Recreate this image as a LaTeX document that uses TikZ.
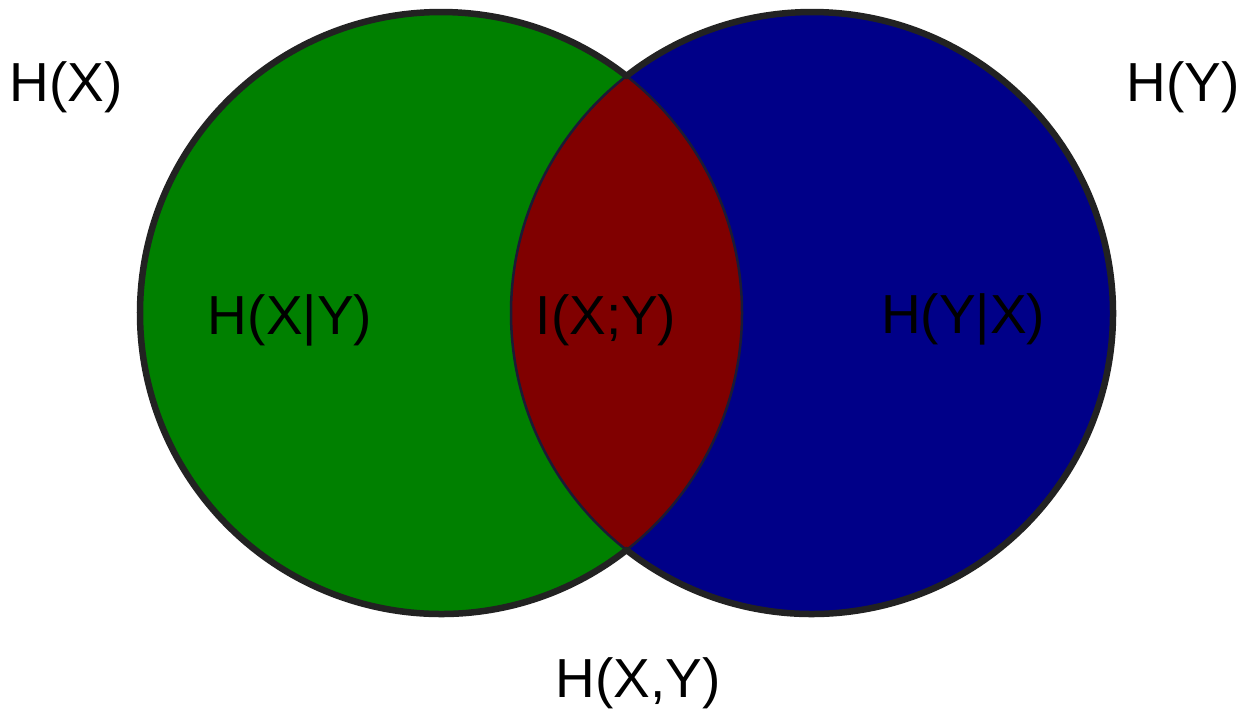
\documentclass[tikz,border=0pt]{standalone}
\usepackage{fontspec}
\setmainfont{Liberation Sans}
\definecolor{cgreen}{RGB}{0,128,0}
\definecolor{cblue}{RGB}{0,0,136}
\definecolor{cred}{RGB}{128,0,0}
\definecolor{cline}{RGB}{34,34,34}
\begin{document}
\begin{tikzpicture}[x=1pt,y=-1pt,
  lbl/.style={font=\fontsize{55}{60}\selectfont, text=black, inner sep=0pt, anchor=base},
  outer/.style={line width=6.5pt, draw=cline, line cap=round},
  inner/.style={line width=2.5pt, draw=cline!80!cblue}]
\useasboundingbox (0,0) rectangle (1244,710);
\coordinate (cl) at (441,313);
\coordinate (cr) at (812,313);
\fill[cgreen] (cl) circle[radius=301];
\fill[cblue] (cr) circle[radius=301];
\begin{scope}
  \clip (cl) circle[radius=301];
  \fill[cred] (cr) circle[radius=301];
\end{scope}
% inner boundaries of the lens
\begin{scope}
  \clip (cl) circle[radius=301];
  \draw[inner] (cr) circle[radius=301];
\end{scope}
\begin{scope}
  \clip (cr) circle[radius=301];
  \draw[inner] (cl) circle[radius=301];
\end{scope}
% outer outlines
\draw[outer] (cl) ++(51.95:301) arc[start angle=51.95, end angle=308.05, radius=301];
\draw[outer] (cr) ++(128.05:301) arc[start angle=128.05, end angle=-128.05, radius=301];
% labels
\node[lbl] (hx) at (66,101) {H(X)};
\node[lbl] (hy) at (1183,101) {H(Y)};
\node[lbl] (hxy) at (638,697) {H(X,Y)};
\node[lbl] (hxgy) at (290,334) {H(X|Y)};
\node[lbl] (ixy) at (606,334) {I(X;Y)};
\node[lbl] (hygx) at (963,333) {H(Y|X)};
\end{tikzpicture}
\end{document}
